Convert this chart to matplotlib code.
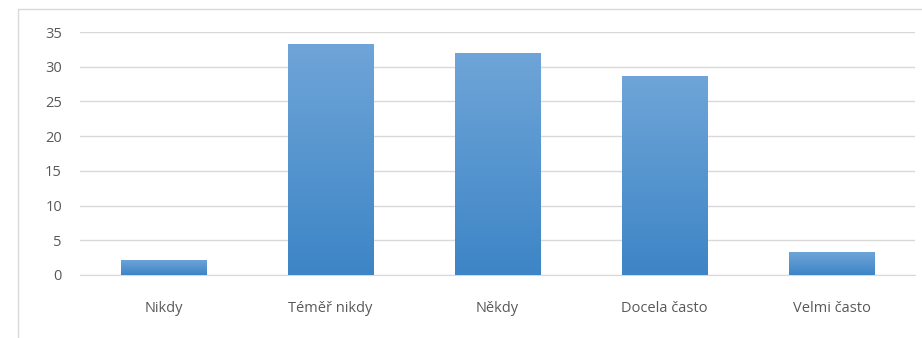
import matplotlib.pyplot as plt
import numpy as np
from matplotlib.patches import Rectangle

categories = ["Nikdy", "Téměř nikdy", "Někdy", "Docela často", "Velmi často"]
values = [2.2, 33.2, 32.0, 28.6, 3.3]
yticks = [0, 5, 10, 15, 20, 25, 30, 35]

plt.rcParams['font.family'] = ['Open Sans', 'DejaVu Sans']

fig = plt.figure(figsize=(9.22, 3.38), dpi=100)

# light frame around the chart area
fig.patches.append(Rectangle((18 / 922, -0.1), 1.0, (338 - 9) / 338 + 0.1,
                             transform=fig.transFigure, fill=False,
                             edgecolor='#d9d9d9', linewidth=1))

ax = fig.add_axes([80 / 922, 63 / 338, 835 / 922, (275 - 32) / 338])

x = np.arange(len(categories))
width = 0.51
bars = ax.bar(x, values, width=width, color='none', zorder=3)

# vertical gradient for each bar, lighter at the top
grad = np.linspace(0, 1, 256).reshape(-1, 1)
cmap = plt.matplotlib.colors.LinearSegmentedColormap.from_list(
    'bar', ['#3d85c6', '#6fa5d8'])
for b in bars:
    x0, y0 = b.get_x(), b.get_y()
    w, h = b.get_width(), b.get_height()
    # soft shadow
    ax.add_patch(Rectangle((x0 + 0.008, y0), w, h - 0.05, facecolor='#c8c8c8',
                           edgecolor='none', zorder=2, alpha=0.6))
    im = ax.imshow(grad, extent=[x0, x0 + w, y0, y0 + h], origin='lower',
                   cmap=cmap, aspect='auto', zorder=3)
    im.set_clip_path(b)

ax.set_xlim(-0.5, len(categories) - 0.5)
ax.set_ylim(0, 35)
ax.set_yticks(yticks)
ax.set_xticks(x)
ax.set_xticklabels(categories)
ax.yaxis.grid(True, color='#d9d9d9', linewidth=1, zorder=0)
ax.set_axisbelow(True)
for s in ['top', 'right', 'left']:
    ax.spines[s].set_visible(False)
ax.spines['bottom'].set_color('#d9d9d9')
ax.tick_params(axis='both', length=0, labelsize=10.5, labelcolor='#595959')
ax.tick_params(axis='y', pad=13)
ax.tick_params(axis='x', pad=19)

plt.savefig('out.png', dpi=100)
